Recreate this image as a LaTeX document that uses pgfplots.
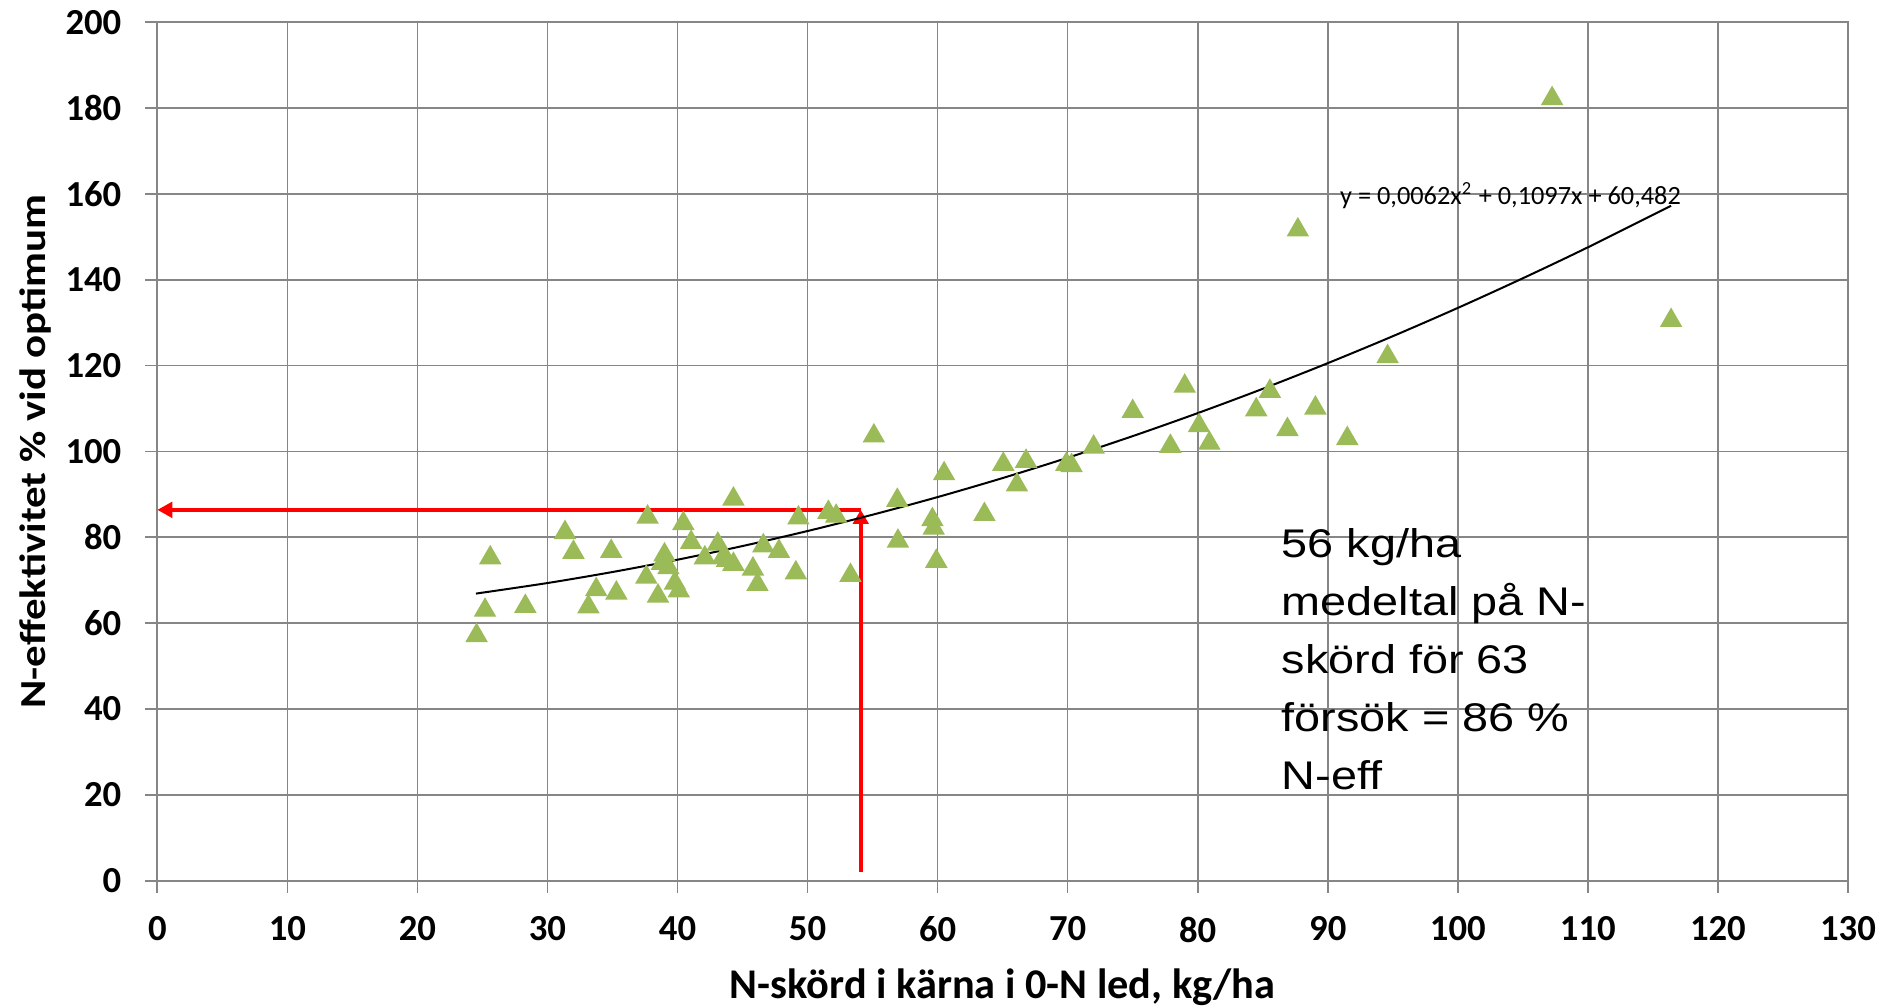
\documentclass[border=0pt]{standalone}
\usepackage{pgfplots}
\pgfplotsset{compat=1.18}
\usepackage{fontspec}
\setmainfont{Carlito}
\newfontfamily\arialfont{Liberation Sans}
\usetikzlibrary{arrows.meta}
\definecolor{gridgray}{RGB}{134,134,134}
\definecolor{olivegreen}{RGB}{155,187,89}
\definecolor{exred}{RGB}{255,0,0}

\pgfplotstableread{
x y
24.55 57.8
25.2 63.7
25.6 75.9
28.3 64.6
31.35 81.8
32.0 77.2
33.15 64.5
33.75 68.5
34.9 77.4
35.3 67.7
37.6 71.4
37.7 85.4
38.5 67.0
38.8 74.6
39.0 76.6
39.3 73.6
39.8 70.0
40.1 68.2
40.45 83.9
41.05 79.5
42.1 75.9
43.1 79.1
43.5 76.0
43.8 75.3
44.3 74.4
44.3 89.6
45.8 73.3
46.15 69.7
46.6 78.7
47.8 77.4
49.1 72.4
49.3 85.2
51.6 86.5
52.2 85.6
53.3 71.8
55.1 104.3
56.9 89.3
56.95 79.8
59.6 84.8
59.7 82.8
59.9 75.1
60.5 95.5
63.6 86.0
65.05 97.7
66.1 92.9
66.8 98.4
69.9 97.7
70.3 97.4
72.0 101.7
75.0 110.0
77.9 101.9
79.0 115.9
80.1 106.7
80.9 102.6
84.5 110.4
85.55 114.7
86.9 105.8
87.7 152.3
89.05 110.8
91.5 103.7
94.6 122.8
107.25 182.9
116.4 131.2
}\datatable

\begin{document}
\begin{tikzpicture}
\useasboundingbox (-47.19pt,-37.89pt) rectangle (518.31pt,264.21pt);
\begin{axis}[
  at={(0,0)}, anchor=south west,
  scale only axis, width=507.2pt, height=257.52pt,
  xmin=0, xmax=130, ymin=0, ymax=200,
  xtick={0,10,...,130}, ytick={0,20,...,200},
  grid=major, major grid style={gridgray, line width=0.5pt},
  axis line style={gridgray, line width=0.6pt},
  tick align=outside, major tick length=3.6pt,
  tick style={gridgray, line width=0.5pt},
  xtick pos=bottom, ytick pos=left,
  clip=false,
  ticklabel style={font=\fontsize{11}{12}\selectfont\bfseries, inner sep=0pt},
  /pgf/number format/assume math mode=true,
  xticklabel style={anchor=north, yshift=-7.0pt},
  yticklabel style={anchor=east, xshift=-7.0pt},
  xlabel={N-skörd i kärna i 0-N led, kg/ha},
  ylabel={N-effektivitet \% vid optimum},
  xlabel style={at={(axis description cs:0.5,-0.13708)}, anchor=base, inner sep=0pt, font=\fontsize{12.7}{14}\selectfont\bfseries},
  ylabel style={at={(axis description cs:-0.06605,0.5)}, anchor=base, inner sep=0pt, xscale=1.17, font=\fontsize{11}{13}\selectfont\bfseries},
]
\addplot[exred, line width=1.3pt, -{Triangle[length=4.5pt,width=4.6pt]}] coordinates {(54.09,86.4) (0,86.4)};
\addplot[exred, line width=1.3pt, -{Triangle[length=4.2pt,width=4.6pt]}] coordinates {(54.09,2) (54.09,86.4)};
\addplot[black, line width=0.6pt, smooth, no marks] coordinates {
(24.5,66.89) (30,69.35) (35,71.92) (40,74.79) (45,77.97) (50,81.47) (55,85.27)
(60,89.38) (65,93.81) (70,98.54) (75,103.58) (80,108.94) (85,114.6) (90,120.58)
(95,126.86) (100,133.45) (105,140.36) (110,147.57) (116.4,157.26)};
\addplot[only marks, mark=triangle*, mark size=3.5pt,
  mark options={fill=olivegreen, draw=olivegreen, yshift=-0.875pt}] table[x=x,y=y] {\datatable};
\node[anchor=base west, inner sep=0pt, font=\fontsize{7.9}{9}\selectfont] at (axis cs:90.9,157.6) {y = 0,0062x\textsuperscript{2} + 0,1097x + 60,482};
\node[anchor=north west, inner sep=0pt, align=left, xscale=1.17, font=\arialfont\fontsize{12}{17.4}\selectfont] at (axis cs:86.4,82.3) {56 kg/ha\\medeltal på N-\\skörd för 63\\försök = 86 \%\\N-eff};
\end{axis}
\end{tikzpicture}
\end{document}
